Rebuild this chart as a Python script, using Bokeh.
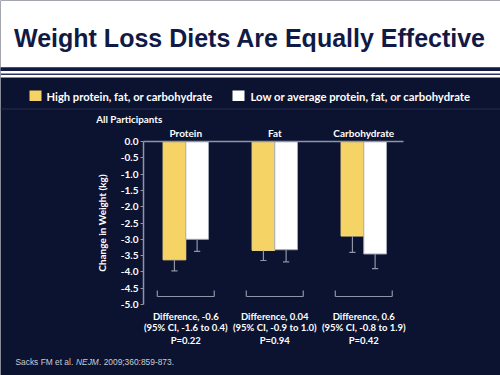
from bokeh.plotting import figure
from bokeh.models import Range1d, Label, LinearAxis, FixedTicker, PrintfTickFormatter
from bokeh.embed import file_html
from bokeh.resources import INLINE

# ---- data ----
categories = ["Protein", "Fat", "Carbohydrate"]
high_change = [-3.63, -3.34, -2.90]     # High protein, fat, or carbohydrate
high_err_low = [-3.97, -3.65, -3.40]
low_change = [-3.00, -3.32, -3.45]      # Low or average protein, fat, or carbohydrate
low_err_low = [-3.37, -3.69, -3.90]
diff_text = ["Difference, -0.6", "Difference, 0.04", "Difference, 0.6"]
ci_text = ["(95% CI, -1.6 to 0.4)", "(95% CI, -0.9 to 1.0)", "(95% CI, -0.8 to 1.9)"]
p_text = ["P=0.22", "P=0.94", "P=0.42"]
y_ticks = [0.0, -0.5, -1.0, -1.5, -2.0, -2.5, -3.0, -3.5, -4.0, -4.5, -5.0]
legend_labels = ["High protein, fat, or carbohydrate", "Low or average protein, fat, or carbohydrate"]
title_text = "Weight Loss Diets Are Equally Effective"
subgroup_text = "All Participants"
y_label = "Change in Weight (kg)"

BG = "#0b1330"
NAVY = "#111a45"
YEL = "#f5d365"
GRAY = "#8f95a6"
FONT = "Lato"

W, H = 500, 375
PX_PER_X = 89.0      # pixels per category step
PX_PER_Y = 32.6      # pixels per kg
X_AT_AXIS = 0.525    # data x at the y axis line
AXIS_PX = 143        # canvas px of y axis line
ZERO_PX = 141        # canvas px of y = 0

x0 = X_AT_AXIS - AXIS_PX / PX_PER_X
x1 = x0 + W / PX_PER_X
y_top = ZERO_PX / PX_PER_Y
y_bot = -(H - ZERO_PX) / PX_PER_Y


def px(xp):   # canvas pixel -> data x
    return x0 + xp / PX_PER_X


def py(yp):   # canvas pixel -> data y
    return (ZERO_PX - yp) / PX_PER_Y


p = figure(width=W, height=H, x_range=Range1d(x0, x1), y_range=Range1d(y_bot, y_top),
           output_backend="svg", toolbar_location=None, min_border=0,
           x_axis_location=None, y_axis_location=None,
           background_fill_color=BG, border_fill_color=BG, outline_line_color=None)
p.xgrid.visible = False
p.ygrid.visible = False

# header band and stripes
p.quad(left=x0, right=x1, top=y_top, bottom=py(67), fill_color="white", line_color=None)
p.quad(left=x0, right=x1, top=py(67), bottom=py(70.5), fill_color=NAVY, line_color=None)
p.quad(left=x0, right=x1, top=py(70.5), bottom=py(77), fill_color="white", line_color=None)
p.quad(left=x0, right=x1, top=py(73), bottom=py(74.5), fill_color="#2c3560", line_color=None)
p.segment(x0=x0, x1=x1, y0=py(108.5), y1=py(108.5), line_color="#262e4c", line_width=1)

p.add_layout(Label(x=px(249.5), y=py(37), text=title_text,
                   text_align="center", text_baseline="middle", text_font="Liberation Sans",
                   text_font_style="bold", text_font_size="25px", text_color=NAVY))

# legend
p.quad(left=px(29), right=px(41), top=py(90), bottom=py(100.5), fill_color=YEL, line_color=None)
p.quad(left=px(232), right=px(244), top=py(90), bottom=py(100.5), fill_color="white", line_color=None)
for xp, t, fs in ((46, legend_labels[0], "11.2px"), (250, legend_labels[1], "11.3px")):
    p.add_layout(Label(x=px(xp), y=py(95.5), text=t, text_align="left", text_baseline="middle",
                       text_font=FONT, text_font_style="bold", text_font_size=fs,
                       text_color="white"))

p.add_layout(Label(x=px(95.7), y=py(118), text=subgroup_text, text_align="left", text_baseline="middle",
                   text_font=FONT, text_font_style="bold", text_font_size="9.8px", text_color="white"))

# ---- bars ----
centers = [i + 1 for i in range(len(categories))]
bw = 0.255
x_hi = [c - bw / 2 for c in centers]
x_lo = [c + bw / 2 for c in centers]

p.vbar(x=x_hi, top=0, bottom=high_change, width=bw, fill_color=YEL, line_color="#f7dc85", line_width=1)
p.vbar(x=x_lo, top=0, bottom=low_change, width=bw, fill_color="white", line_color="#a4a9b6", line_width=1)

cap = 0.035
for xs, v, e in ((x_hi, high_change, high_err_low), (x_lo, low_change, low_err_low)):
    p.segment(x0=xs, x1=xs, y0=v, y1=e, line_color=GRAY, line_width=1.2)
    p.segment(x0=[x - cap for x in xs], x1=[x + cap for x in xs], y0=e, y1=e,
              line_color=GRAY, line_width=1.2)

# brackets
bh = 0.32
by0, by1 = py(290), py(296)
p.segment(x0=[c - bh for c in centers], x1=[c + bh for c in centers], y0=by1, y1=by1,
          line_color=GRAY, line_width=1.2)
p.segment(x0=[c - bh for c in centers], x1=[c - bh for c in centers], y0=by0, y1=by1,
          line_color=GRAY, line_width=1.2)
p.segment(x0=[c + bh for c in centers], x1=[c + bh for c in centers], y0=by0, y1=by1,
          line_color=GRAY, line_width=1.2)

# top line at zero
p.segment(x0=X_AT_AXIS, x1=px(403), y0=0, y1=0, line_color=GRAY, line_width=1.5)

# y axis
ya = LinearAxis(fixed_location=X_AT_AXIS, bounds=(min(y_ticks), max(y_ticks)),
                ticker=FixedTicker(ticks=y_ticks), formatter=PrintfTickFormatter(format="%.1f"))
ya.axis_line_color = GRAY
ya.axis_line_width = 1.5
ya.major_tick_line_color = GRAY
ya.major_tick_out = 3
ya.major_tick_in = 0
ya.minor_tick_line_color = None
ya.major_label_standoff = 2
ya.major_label_text_color = "white"
ya.major_label_text_font = FONT
ya.major_label_text_font_style = "bold"
ya.major_label_text_font_size = "10px"
ya.axis_label = y_label
ya.axis_label_text_color = "white"
ya.axis_label_text_font = FONT
ya.axis_label_text_font_style = "bold"
ya.axis_label_text_font_size = "10px"
ya.axis_label_standoff = 10
p.add_layout(ya, "left")

# category axis above
ax = LinearAxis(fixed_location=0, ticker=FixedTicker(ticks=centers),
                major_label_overrides={c: n for c, n in zip(centers, categories)})
ax.axis_line_color = None
ax.major_tick_line_color = None
ax.minor_tick_line_color = None
ax.major_tick_out = 0
ax.major_label_standoff = 3
ax.major_label_text_color = "white"
ax.major_label_text_font = FONT
ax.major_label_text_font_style = "bold"
ax.major_label_text_font_size = "10px"
p.add_layout(ax, "above")

# difference annotations
for c, d, ci, pv in zip(centers, diff_text, ci_text, p_text):
    for yp, t in ((315.7, d), (327.3, ci), (340, pv)):
        p.add_layout(Label(x=c, y=py(yp), text=t, text_align="center", text_baseline="middle",
                           text_font=FONT, text_font_style="bold", text_font_size="9.5px",
                           text_color="white"))

# citation
for xp, t, st in ((15, "Sacks FM et al.", "normal"), (75.5, "NEJM", "italic"),
                  (98.5, ". 2009;360:859-873.", "normal")):
    p.add_layout(Label(x=px(xp), y=py(361), text=t, text_align="left", text_baseline="middle",
                       text_font="Liberation Sans", text_font_style=st, text_font_size="8.4px",
                       text_color="#c9ccd6"))

open("out.html", "w").write(file_html(p, INLINE))
